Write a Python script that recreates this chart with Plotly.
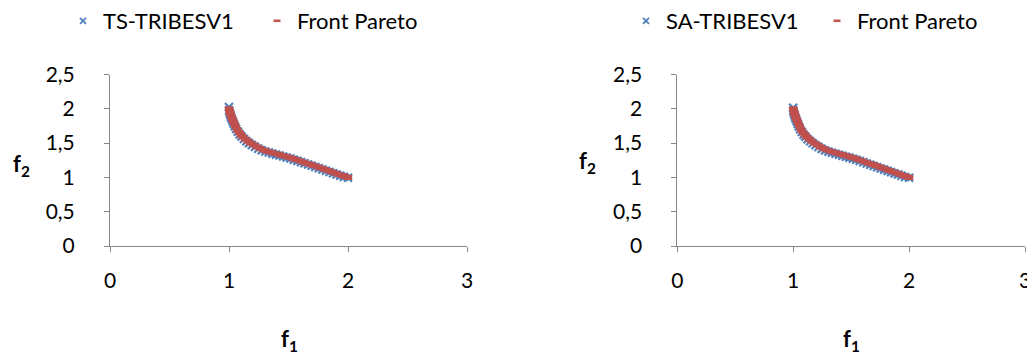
import plotly.graph_objects as go

# ---- data ----
f1_front = [1.000, 1.004, 1.008, 1.013, 1.019, 1.026, 1.034, 1.043, 1.054, 1.067,
            1.082, 1.098, 1.115, 1.135, 1.157, 1.180, 1.205, 1.232, 1.260, 1.290,
            1.320, 1.350, 1.380, 1.410, 1.440, 1.470, 1.500, 1.530, 1.560, 1.590,
            1.620, 1.650, 1.680, 1.710, 1.740, 1.770, 1.800, 1.830, 1.860, 1.890,
            1.920, 1.950, 1.975, 2.000]
f2_front = [2.000, 1.970, 1.945, 1.920, 1.890, 1.860, 1.830, 1.790, 1.750, 1.700,
            1.660, 1.625, 1.592, 1.560, 1.530, 1.500, 1.475, 1.445, 1.420, 1.400,
            1.382, 1.366, 1.351, 1.336, 1.322, 1.308, 1.295, 1.278, 1.261, 1.244,
            1.226, 1.208, 1.190, 1.172, 1.154, 1.136, 1.118, 1.100, 1.082, 1.064,
            1.046, 1.029, 1.014, 1.000]

f1_ts = [1.000, 1.001, 1.005, 1.010, 1.016, 1.022, 1.030, 1.038, 1.048, 1.060,
         1.074, 1.090, 1.106, 1.125, 1.146, 1.168, 1.192, 1.218, 1.246, 1.275,
         1.305, 1.335, 1.365, 1.395, 1.425, 1.455, 1.485, 1.515, 1.545, 1.575,
         1.605, 1.635, 1.665, 1.695, 1.725, 1.755, 1.785, 1.815, 1.845, 1.875,
         1.905, 1.935, 1.965, 2.000]
f2_ts = [2.025, 1.975, 1.945, 1.915, 1.885, 1.855, 1.820, 1.785, 1.745, 1.705,
         1.665, 1.625, 1.595, 1.560, 1.528, 1.500, 1.472, 1.445, 1.418, 1.396,
         1.378, 1.362, 1.347, 1.332, 1.318, 1.304, 1.290, 1.275, 1.258, 1.241,
         1.223, 1.205, 1.187, 1.169, 1.151, 1.133, 1.115, 1.097, 1.079, 1.061,
         1.043, 1.025, 1.008, 0.995]

f1_sa = [1.000, 1.001, 1.005, 1.010, 1.016, 1.022, 1.030, 1.038, 1.048, 1.060,
         1.074, 1.090, 1.106, 1.125, 1.146, 1.168, 1.192, 1.218, 1.246, 1.275,
         1.305, 1.335, 1.365, 1.395, 1.425, 1.455, 1.485, 1.515, 1.545, 1.575,
         1.605, 1.635, 1.665, 1.695, 1.725, 1.755, 1.785, 1.815, 1.845, 1.875,
         1.905, 1.935, 1.965, 2.000]
f2_sa = [2.015, 1.972, 1.942, 1.912, 1.882, 1.852, 1.818, 1.782, 1.742, 1.702,
         1.662, 1.622, 1.592, 1.557, 1.526, 1.498, 1.470, 1.443, 1.416, 1.394,
         1.376, 1.360, 1.345, 1.330, 1.316, 1.302, 1.288, 1.273, 1.256, 1.239,
         1.221, 1.203, 1.185, 1.167, 1.149, 1.131, 1.113, 1.095, 1.077, 1.059,
         1.041, 1.023, 1.006, 0.995]

x_ticks = [0, 1, 2, 3]
x_tick_labels = ["0", "1", "2", "3"]
y_ticks = [0, 0.5, 1, 1.5, 2, 2.5]
y_tick_labels = ["0", "0,5", "1", "1,5", "2", "2,5"]

BLUE = "#4F81BD"
RED = "#C0504D"
FONT = "Lato"
OFF = 8                      # page body margin of the browser
W, H = 1035 - OFF, 358 - OFF


def px(x):
    return (x - OFF) / W


def py(y):
    return 1 - (y - OFF) / H


fig = go.Figure()


def add_pair(name, xs, ys, xa, ya, legend):
    # data traces
    fig.add_trace(go.Scatter(
        x=xs, y=ys, mode="markers", name=name, xaxis=xa, yaxis=ya, showlegend=False,
        marker=dict(symbol="x-thin", size=8, color=BLUE, line=dict(color=BLUE, width=2.2)),
    ))
    fig.add_trace(go.Scatter(
        x=f1_front, y=f2_front, mode="markers", name="Front Pareto", xaxis=xa, yaxis=ya,
        showlegend=False,
        marker=dict(symbol="line-ew", size=6, color=RED, line=dict(color=RED, width=5)),
    ))
    # legend entries with the small markers of the reference legend
    fig.add_trace(go.Scatter(
        x=[None], y=[None], mode="markers", name=name, xaxis=xa, yaxis=ya, legend=legend,
        marker=dict(symbol="x-thin", size=6, color=BLUE, line=dict(color=BLUE, width=1.8)),
    ))
    fig.add_trace(go.Scatter(
        x=[None], y=[None], mode="markers", name="Front Pareto", xaxis=xa, yaxis=ya,
        legend=legend,
        marker=dict(symbol="line-ew", size=5, color=RED, line=dict(color=RED, width=2.5)),
    ))


add_pair("TS-TRIBESV1", f1_ts, f2_ts, "x", "y", "legend")
add_pair("SA-TRIBESV1", f1_sa, f2_sa, "x2", "y2", "legend2")

ydom = [py(246), py(74.5)]
axis_common = dict(
    showgrid=False, zeroline=False, showline=True, linecolor="#868686", linewidth=1,
    ticks="outside", ticklen=5, tickcolor="#868686", tickwidth=1,
    tickfont=dict(family=FONT, size=21, color="#000000"),
)

fig.update_layout(
    width=W, height=H,
    margin=dict(l=0, r=0, t=0, b=0, pad=0, autoexpand=False),
    paper_bgcolor="white", plot_bgcolor="white",
    font=dict(family=FONT, size=21, color="#000000"),
    xaxis=dict(domain=[px(110), px(467)], range=[0, 3], tickvals=x_ticks,
               ticktext=x_tick_labels, anchor="y", ticklabelstandoff=11, **axis_common),
    yaxis=dict(domain=ydom, range=[0, 2.5], tickvals=y_ticks, ticktext=y_tick_labels,
               anchor="x", ticklabelstandoff=25, **axis_common),
    xaxis2=dict(domain=[px(677.3), px(1025)], range=[0, 3], tickvals=x_ticks,
                ticktext=x_tick_labels, anchor="y2", ticklabelstandoff=11, **axis_common),
    yaxis2=dict(domain=ydom, range=[0, 2.5], tickvals=y_ticks, ticktext=y_tick_labels,
                anchor="x2", ticklabelstandoff=25, **axis_common),
    legend=dict(orientation="h", x=55 / W, xanchor="left", y=py(21), yanchor="middle",
                font=dict(family=FONT, size=22), entrywidth=149, entrywidthmode="pixels",
                bgcolor="rgba(0,0,0,0)"),
    legend2=dict(orientation="h", x=618 / W, xanchor="left", y=py(21), yanchor="middle",
                 font=dict(family=FONT, size=22), entrywidth=146, entrywidthmode="pixels",
                 bgcolor="rgba(0,0,0,0)"),
    showlegend=True,
)

annots = [
    dict(text="<b>f<sub>2</sub></b>", x=px(21), y=py(165)),
    dict(text="<b>f<sub>1</sub></b>", x=px(289), y=py(340)),
    dict(text="<b>f<sub>2</sub></b>", x=px(587), y=py(162)),
    dict(text="<b>f<sub>1</sub></b>", x=px(851), y=py(340)),
]
for a in annots:
    fig.add_annotation(text=a["text"], x=a["x"], y=a["y"], xref="paper", yref="paper",
                       showarrow=False, xanchor="center", yanchor="middle",
                       font=dict(family=FONT, size=22, color="#000000"))

fig.write_html("out.html")
